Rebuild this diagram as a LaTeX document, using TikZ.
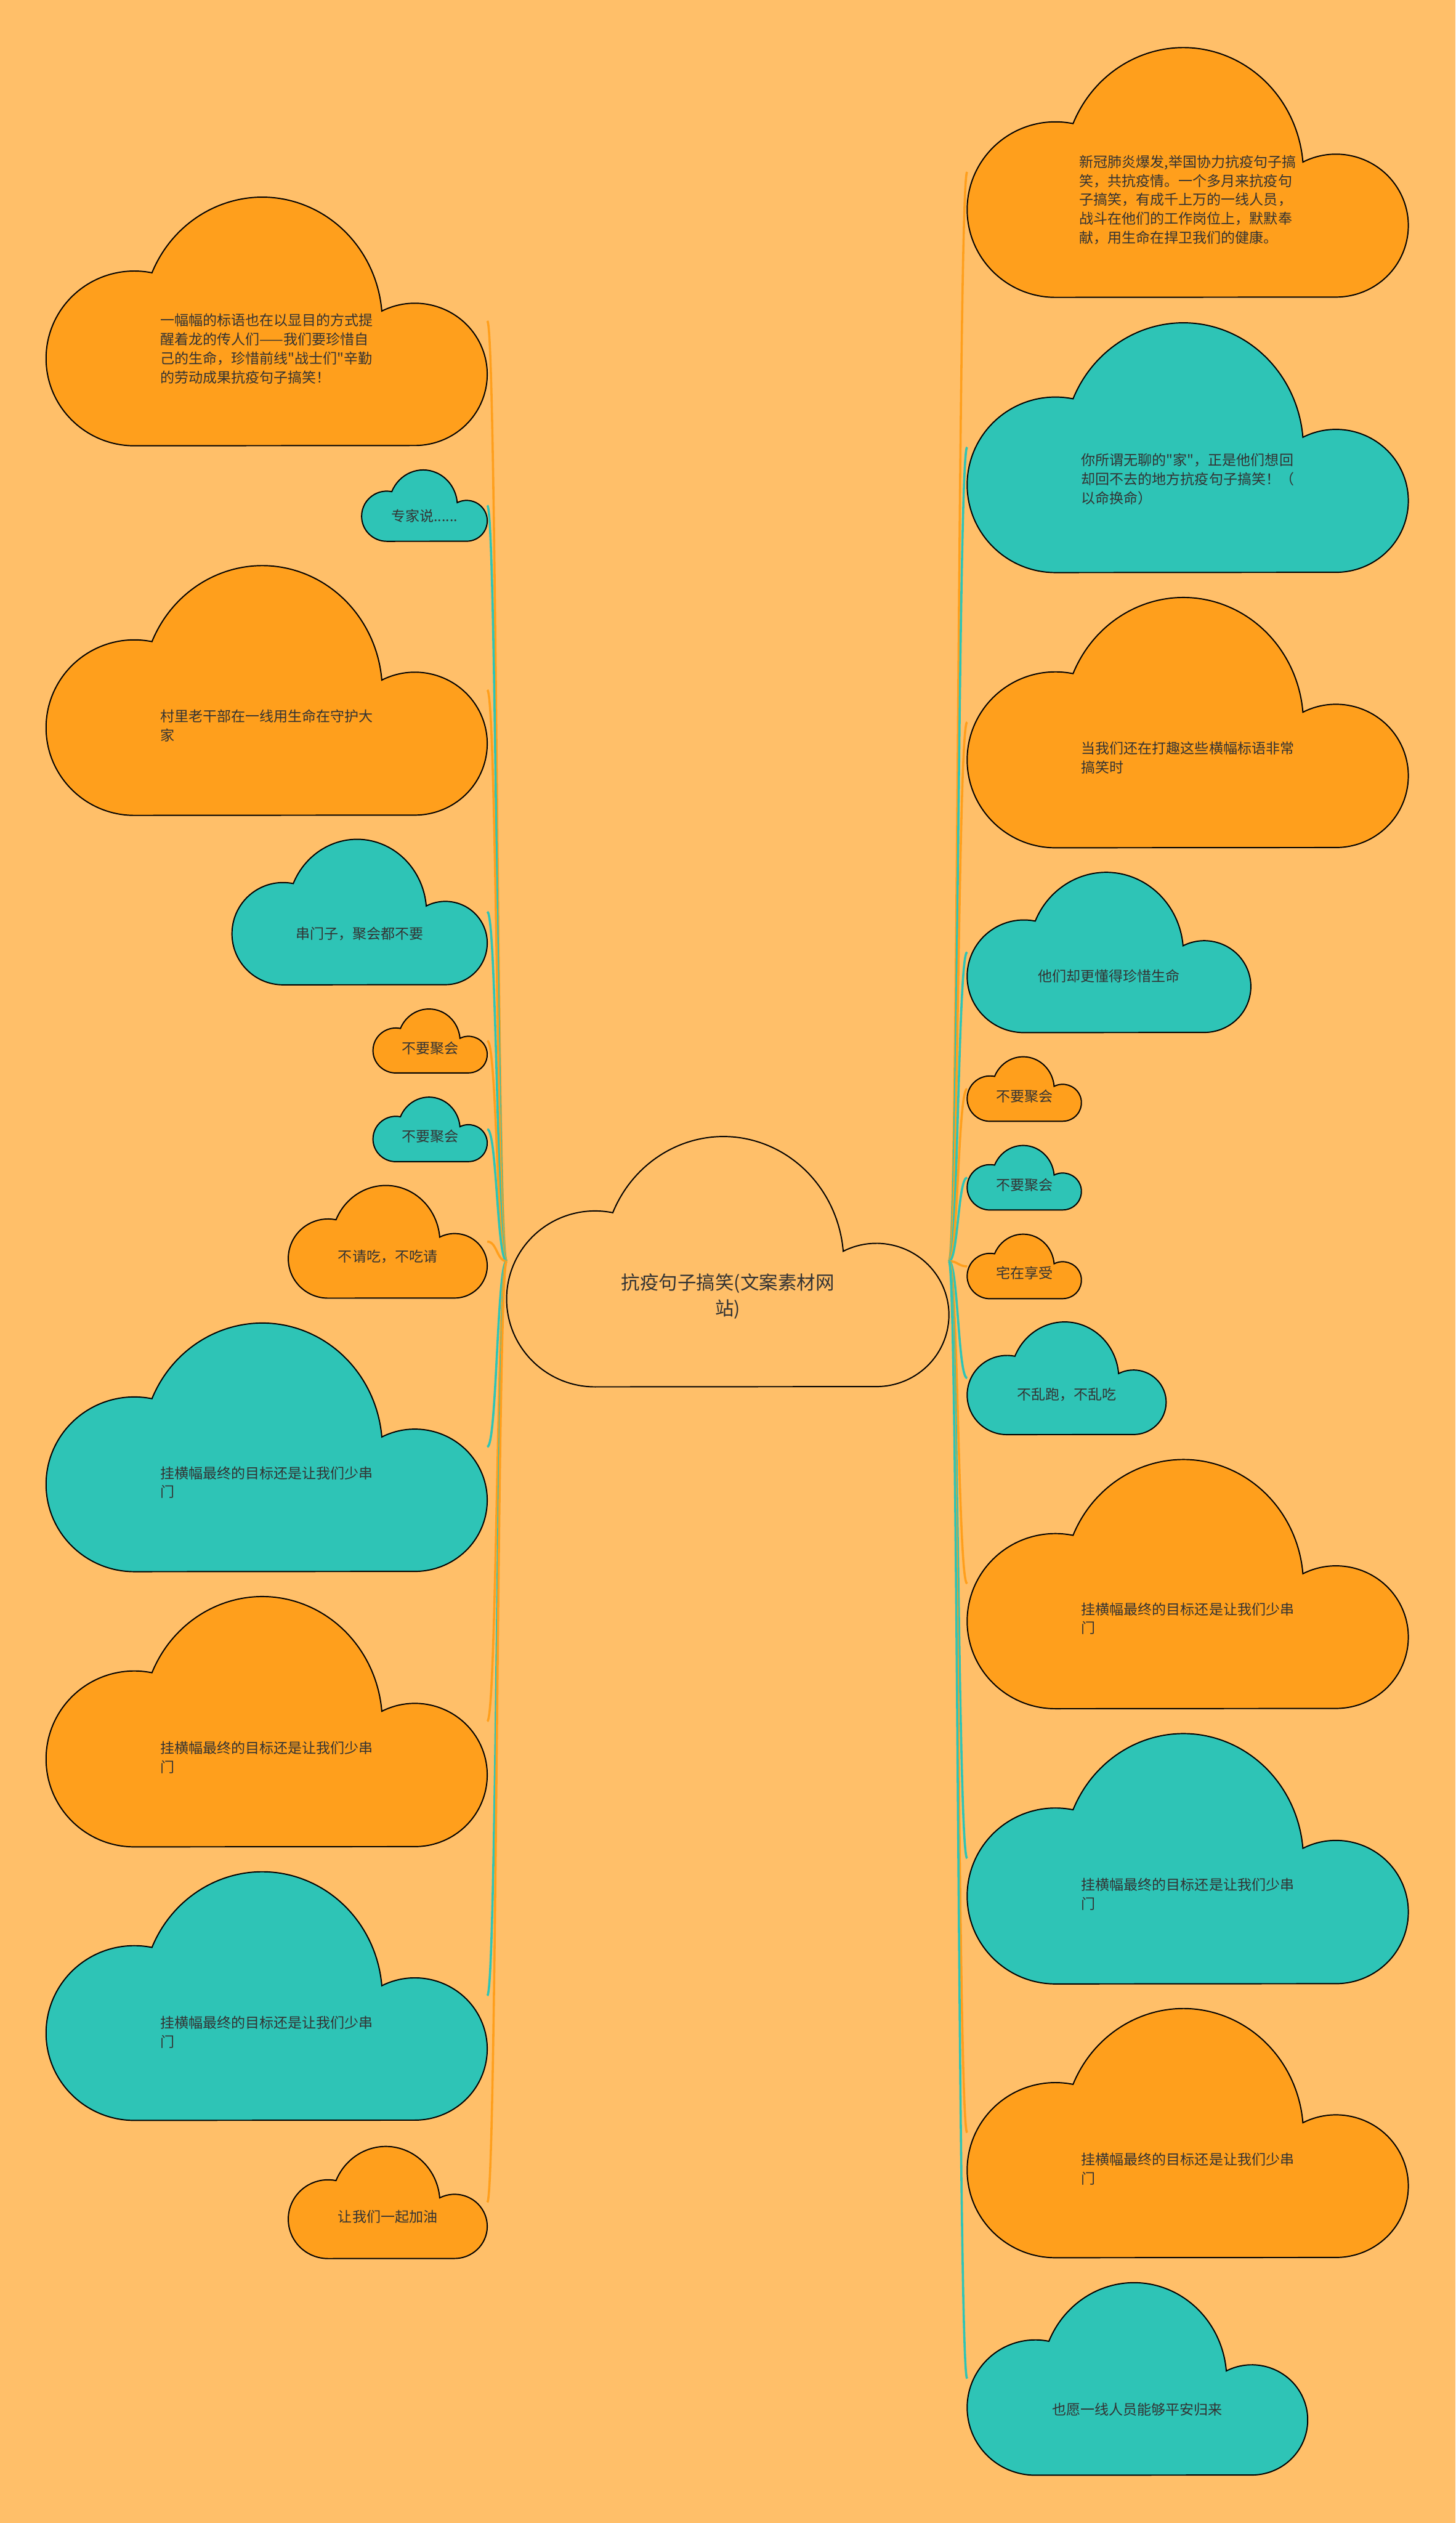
\documentclass[tikz,border=0pt]{standalone}
\usepackage{fontspec}
\setmainfont{Noto Sans CJK SC}[Ligatures=TeXOff]
\usetikzlibrary{calc}
\definecolor{paper}{HTML}{FFBF69}
\definecolor{amber}{HTML}{FF9F1C}
\definecolor{lagoon}{HTML}{2EC4B6}
\definecolor{ink}{HTML}{333333}
\newcommand{\cloudshape}{(0.2,0) arc[start angle=270, end angle=78.46, x radius=0.2, y radius=0.35]
  arc[start angle=156.8, end angle=5, x radius=0.272, y radius=0.5]
  arc[start angle=117.2, end angle=-90, x radius=0.164, y radius=0.285] -- cycle}

\begin{document}
\begin{tikzpicture}[cloudbox/.style={inner sep=0pt, outer sep=0pt},
    cloudline/.style={draw=black, line width=0.6pt},
    note/.style={text=ink, align=left, inner sep=0pt, font=\fontsize{7.1pt}{9.5pt}\selectfont},
    title/.style={text=ink, align=center, inner sep=0pt, font=\fontsize{9.4pt}{12.8pt}\selectfont},
    link/.style={draw=#1, line width=1.1pt}]
        \fill[paper] (0,0) rectangle (25.6,44.37);

        \node[cloudbox, minimum width=7.78cm, minimum height=4.42cm] (root) at (12.80,22.19) {};
        \filldraw[cloudline, fill=paper, shift={(root.south west)}, x=7.78cm, y=4.42cm] \cloudshape;
        \node[title] (root-t) at ($(root.center)+(0,-0.62)$) {抗疫句子搞笑(文案素材网\\站)};
        \coordinate (lmid) at ($(root.west)+(-0.17,0)$);
        \coordinate (rmid) at ($(root.east)+(0.16,0)$);

        \foreach \nm/\cx/\cy/\w/\h/\col/\dy/\txt in {
            L1/4.69/38.725/7.76/4.39/amber/0.49/{一幅幅的标语也在以显目的方式提\\醒着龙的传人们——我们要珍惜自\\己的生命，珍惜前线"战士们"辛勤\\的劳动成果抗疫句子搞笑！},
            L2/7.465/35.48/2.21/1.26/lagoon/0.19/{专家说......},
            L3/4.69/32.235/7.76/4.41/amber/0.625/{村里老干部在一线用生命在守护大\\家},
            L4/6.325/28.335/4.49/2.57/lagoon/0.39/{串门子，聚会都不要},
            L5/7.565/26.065/2.01/1.13/amber/0.13/{不要聚会},
            L6/7.565/24.51/2.01/1.14/lagoon/0.13/{不要聚会},
            L7/6.82/22.535/3.50/1.99/amber/0.265/{不请吃，不吃请},
            L8/4.69/18.925/7.76/4.39/lagoon/0.625/{挂横幅最终的目标还是让我们少串\\门},
            L9/4.69/14.10/7.76/4.42/amber/0.64/{挂横幅最终的目标还是让我们少串\\门},
            L10/4.69/9.275/7.76/4.39/lagoon/0.645/{挂横幅最终的目标还是让我们少串\\门},
            L11/6.82/5.64/3.50/1.98/amber/0.26/{让我们一起加油}}{
            \node[cloudbox, minimum width=\w cm, minimum height=\h cm] (\nm) at (\cx,\cy) {};
            \filldraw[cloudline, fill=\col, shift={(\nm.south west)}, x=\w cm, y=\h cm] \cloudshape;
            \node[note] (\nm-t) at ($(\nm.center)+(0,-\dy)$) {\txt};
            \draw[link=\col] (root.west) .. controls (lmid) and (lmid |- \nm.east) .. (\nm.east);
        }

        \foreach \nm/\cx/\cy/\w/\h/\col/\dy/\txt in {
            R1/20.89/41.345/7.76/4.41/amber/0.49/{新冠肺炎爆发,举国协力抗疫句子搞\\笑，共抗疫情。一个多月来抗疫句\\子搞笑，有成千上万的一线人员，\\战斗在他们的工作岗位上，默默奉\\献，用生命在捍卫我们的健康。},
            R2/20.89/36.505/7.76/4.41/lagoon/0.565/{你所谓无聊的"家"，正是他们想回\\却回不去的地方抗疫句子搞笑！（\\以命换命）},
            R3/20.89/31.67/7.76/4.42/amber/0.625/{当我们还在打趣这些横幅标语非常\\搞笑时},
            R4/19.505/27.625/4.99/2.83/lagoon/0.42/{他们却更懂得珍惜生命},
            R5/18.015/25.22/2.01/1.14/amber/0.13/{不要聚会},
            R6/18.015/23.66/2.01/1.14/lagoon/0.13/{不要聚会},
            R7/18.015/22.10/2.01/1.14/amber/0.12/{宅在享受},
            R8/18.76/20.135/3.50/1.99/lagoon/0.29/{不乱跑，不乱吃},
            R9/20.89/16.52/7.76/4.40/amber/0.615/{挂横幅最终的目标还是让我们少串\\门},
            R10/20.89/11.69/7.76/4.42/lagoon/0.63/{挂横幅最终的目标还是让我们少串\\门},
            R11/20.89/6.865/7.76/4.40/amber/0.635/{挂横幅最终的目标还是让我们少串\\门},
            R12/20.005/2.54/5.99/3.40/lagoon/0.54/{也愿一线人员能够平安归来}}{
            \node[cloudbox, minimum width=\w cm, minimum height=\h cm] (\nm) at (\cx,\cy) {};
            \filldraw[cloudline, fill=\col, shift={(\nm.south west)}, x=\w cm, y=\h cm] \cloudshape;
            \node[note] (\nm-t) at ($(\nm.center)+(0,-\dy)$) {\txt};
            \draw[link=\col] (root.east) .. controls (rmid) and (rmid |- \nm.west) .. (\nm.west);
        }
    \end{tikzpicture}
\end{document}
